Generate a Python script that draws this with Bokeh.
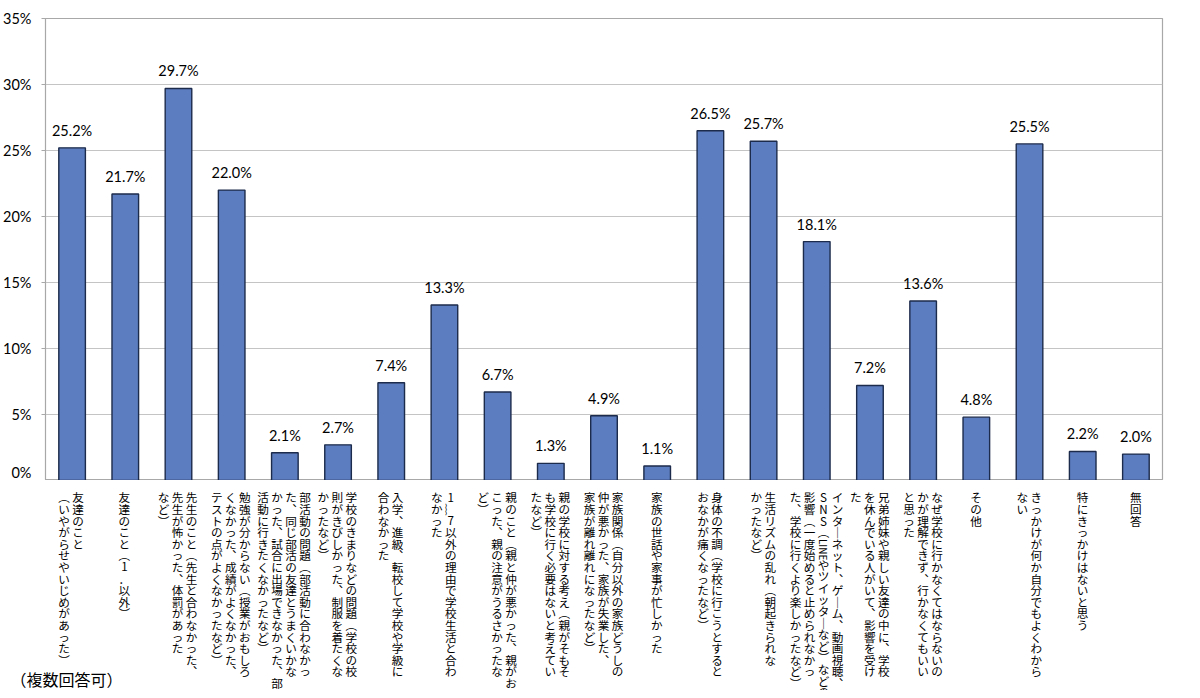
import math
from bokeh.plotting import figure
from bokeh.layouts import column
from bokeh.core.properties import value
from bokeh.models import (ColumnDataSource, LabelSet, Label, Range1d, FactorRange,
                          FixedTicker, PrintfTickFormatter)
from bokeh.embed import file_html
from bokeh.resources import INLINE

# ---- data ----
label_lines = [
    ["友達のこと", "(いやがらせやいじめがあった)"],
    ["友達のこと(1．以外)"],
    ["先生のこと(先生と合わなかった、", "先生が怖かった、体罰があった", "など)"],
    ["勉強が分からない(授業がおもしろ", "くなかった、成績がよくなかった、", "テストの点がよくなかったなど)"],
    ["部活動の問題(部活動に合わなかっ", "た、同じ部活の友達とうまくいかな", "かった、試合に出場できなかった、部", "活動に行きたくなかったなど)"],
    ["学校のきまりなどの問題(学校の校", "則がきびしかった、制服を着たくな", "かったなど)"],
    ["入学、進級、転校して学校や学級に", "合わなかった"],
    ["1～7以外の理由で学校生活と合わ", "なかった"],
    ["親のこと(親と仲が悪かった、親がお", "こった、親の注意がうるさかったな", "ど)"],
    ["親の学校に対する考え(親がそもそ", "も学校に行く必要はないと考えてい", "たなど)"],
    ["家族関係(自分以外の家族どうしの", "仲が悪かった、家族が失業した、", "家族が離れ離れになったなど)"],
    ["家族の世話や家事が忙しかった"],
    ["身体の不調(学校に行こうとすると", "おなかが痛くなったなど)"],
    ["生活リズムの乱れ(朝起きられな", "かったなど)"],
    ["インターネット、ゲーム、動画視聴、", "SNS(LINEやツイッターなど)などの", "影響(一度始めると止められなかっ", "た、学校に行くより楽しかったなど)"],
    ["兄弟姉妹や親しい友達の中に、学校", "を休んでいる人がいて、影響を受け", "た"],
    ["なぜ学校に行かなくてはならないの", "かが理解できず、行かなくてもいい", "と思った"],
    ["その他"],
    ["きっかけが何か自分でもよくわから", "ない"],
    ["特にきっかけはないと思う"],
    ["無回答"],
]
values = [25.2, 21.7, 29.7, 22.0, 2.1, 2.7, 7.4, 13.3, 6.7, 1.3, 4.9, 1.1,
          26.5, 25.7, 18.1, 7.2, 13.6, 4.8, 25.5, 2.2, 2.0]
y_ticks = [0, 5, 10, 15, 20, 25, 30, 35]
note_text = "（複数回答可）"

categories = ["".join(l) for l in label_lines]

# ---- style ----
JP = "Noto Sans CJK JP"
NUM = "Lato"
BAR_FILL = "#5C7DBF"
BAR_LINE = "#1C2B4B"
GRID = "#C4C4C4"
FRAME = "#A8A8A8"
CELL = 11.6      # vertical advance per character
COLSP = 14.0     # horizontal distance between columns
TOPGAP = 11.0    # gap between axis and first character

FR_L, FR_R, FR_T = 44, 22, 18
W, H_TOP, H_BOT = 1184, 480, 210

VMAP = {"、": "︑", "(": "︵", ")": "︶", "ー": "｜", "～": "︴"}

p = figure(width=W, height=H_TOP, x_range=FactorRange(factors=categories, range_padding=0),
           y_range=Range1d(0, 35), output_backend="svg", toolbar_location=None,
           x_axis_location=None,
           min_border_left=FR_L, min_border_right=FR_R, min_border_top=FR_T, min_border_bottom=0)
p.outline_line_color = FRAME
p.outline_line_width = 1.2
p.xgrid.visible = False
p.ygrid.grid_line_color = GRID
p.ygrid.grid_line_width = 1.2
p.yaxis.ticker = FixedTicker(ticks=y_ticks)
p.yaxis.formatter = PrintfTickFormatter(format="%d%%")
p.yaxis.axis_line_color = FRAME
p.yaxis.major_tick_line_color = FRAME
p.yaxis.major_tick_out = 4
p.yaxis.major_tick_in = 0
p.yaxis.minor_tick_line_color = None
p.yaxis.major_label_text_font = NUM
p.yaxis.major_label_text_font_size = "14.5px"
p.yaxis.major_label_text_color = "#000000"
p.yaxis.major_label_standoff = 10

src = ColumnDataSource(dict(x=categories, top=values,
                            lab=[f"{v:.1f}%" for v in values]))
p.vbar(x="x", top="top", bottom=0, width=0.5, source=src,
       fill_color=BAR_FILL, line_color=BAR_LINE, line_width=1.4)

p.add_layout(LabelSet(x="x", y="top", text="lab", source=src, y_offset=9,
                      text_align="center", text_baseline="bottom",
                      text_font=value(NUM), text_font_size=value("14.5px"), text_color="#000000"))

# ---- bottom figure with the vertical category labels ----
frame_w = W - FR_L - FR_R
unit = frame_w / len(categories)          # pixels per category
extra = 30                                 # px of padding each side in the label panel
q = figure(width=W + 8, height=H_BOT,
           x_range=FactorRange(factors=categories, range_padding=extra / unit,
                               range_padding_units="absolute"),
           y_range=Range1d(H_BOT, 0), output_backend="svg", toolbar_location=None,
           x_axis_location=None, y_axis_location=None, frame_align=False,
           min_border_left=FR_L - extra, min_border_right=0, min_border_top=0, min_border_bottom=0)
q.grid.visible = False
q.outline_line_color = None

up = dict(x=[], y=[], xo=[], t=[])
rot = dict(x=[], y=[], xo=[], t=[])
for cat, lines in zip(categories, label_lines):
    n = len(lines)
    for i, line in enumerate(lines):
        xo = ((n - 1) / 2.0 - i) * COLSP
        row = 0.0
        j = 0
        while j < len(line):
            k = j
            while k < len(line) and line[k].isascii() and line[k].isalpha():
                k += 1
            if k - j >= 4:
                rot["x"].append(cat); rot["xo"].append(xo)
                rot["y"].append(TOPGAP + row * CELL + 1); rot["t"].append(line[j:k])
                row += 1.8
                j = k
                continue
            up["x"].append(cat); up["xo"].append(xo)
            up["y"].append(TOPGAP + (row + 0.5) * CELL)
            up["t"].append(VMAP.get(line[j], line[j]))
            row += 1
            j += 1

q.text(x="x", y="y", x_offset="xo", text="t", source=ColumnDataSource(up),
       text_align="center", text_baseline="middle",
       text_font=value(JP), text_font_size=value("11.6px"), text_color="#000000")
q.text(x="x", y="y", x_offset="xo", text="t", source=ColumnDataSource(rot),
       angle=-math.pi / 2, text_align="left", text_baseline="middle",
       text_font=value(JP), text_font_size=value("10px"), text_color="#000000")

q.add_layout(Label(x=10 - (FR_L - extra), y=12, x_units="screen", y_units="screen",
                   text=note_text, text_font=JP, text_font_size="16px",
                   text_color="#000000", text_baseline="middle"))

layout = column(p, q, spacing=0)
open("out.html", "w").write(file_html(layout, INLINE))
